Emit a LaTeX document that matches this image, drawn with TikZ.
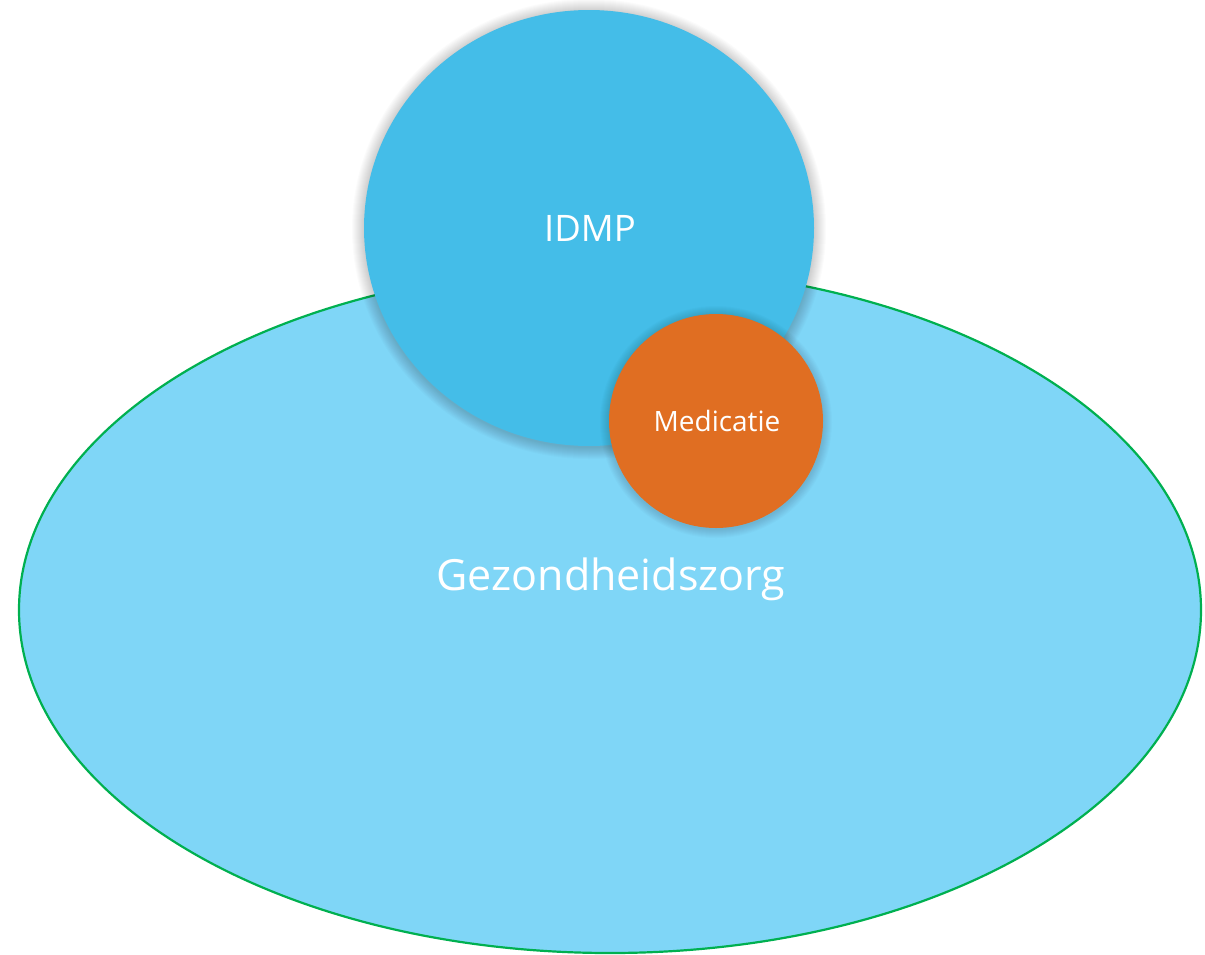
\documentclass[tikz,border=0pt]{standalone}
\usepackage{fontspec}
\setmainfont{Open Sans}
\definecolor{careFill}{HTML}{7FD6F7}
\definecolor{careLine}{HTML}{00B050}
\definecolor{idmpFill}{HTML}{44BDE8}
\definecolor{medFill}{HTML}{E06E22}
\tikzset{
  lbl/.style={text=white, inner sep=0pt},
  shadowring/.style={fill=black, fill opacity=0.016}
}
\begin{document}
\begin{tikzpicture}[x=1pt,y=-1pt]
\useasboundingbox (0,0) rectangle (1205,954);
\fill[white] (0,0) rectangle (1205,954);
% Gezondheidszorg ellipse
\draw[careLine, line width=2.2pt, fill=careFill] (610,610) ellipse [x radius=591, y radius=343];
\node[lbl, font=\fontsize{43}{50}\selectfont] (care) at (611,579) {Gezondheidszorg};
% IDMP circle with soft shadow
\foreach \d in {1,...,12}{
  \fill[shadowring] (589,229) ellipse [x radius=225+\d, y radius=218+\d];
}
\fill[idmpFill] (589,228) ellipse [x radius=225, y radius=218];
\node[lbl, font=\fontsize{36.5}{42}\selectfont] (idmp) at (590,228) {IDMP};
% Medicatie circle with soft shadow
\foreach \d in {1,...,9}{
  \fill[shadowring] (716,422) circle [radius=107+\d];
}
\fill[medFill] (716,421) circle [radius=107];
\node[lbl, font=\fontsize{28}{32}\selectfont] (med) at (717,421) {Medicatie};
\end{tikzpicture}
\end{document}
